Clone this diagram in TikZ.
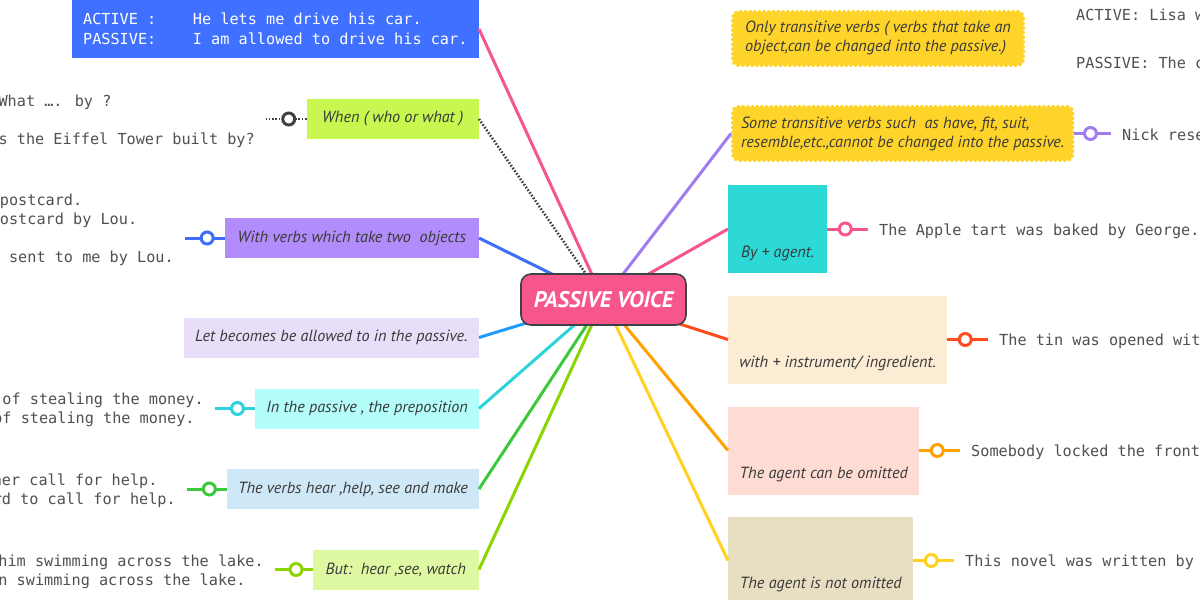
\documentclass[tikz,border=0pt]{standalone}
\usepackage{fontspec}
\newfontfamily\codefont{DejaVu Sans Mono}
\newfontfamily\handfont{PT Sans}
\newcommand{\codetext}{\codefont\fontsize{15.2pt}{19pt}\selectfont}
\newcommand{\handtext}{\handfont\itshape\fontsize{16.2pt}{19pt}\selectfont}
\newcommand{\hubtext}{\handfont\bfseries\itshape\fontsize{22.5pt}{26pt}\selectfont}
\definecolor{ink}{HTML}{3A3A3A}
\definecolor{codegray}{HTML}{505050}
\definecolor{boxblue}{HTML}{4070FF}
\definecolor{boxlime}{HTML}{C8F850}
\definecolor{boxviolet}{HTML}{B18CFA}
\definecolor{boxlilac}{HTML}{E9DEF9}
\definecolor{boxaqua}{HTML}{B3FDFB}
\definecolor{boxsky}{HTML}{CFE8F7}
\definecolor{boxpista}{HTML}{DEF9A2}
\definecolor{boxsun}{HTML}{FFD42A}
\definecolor{boxteal}{HTML}{2DD9D6}
\definecolor{boxcream}{HTML}{FBECD3}
\definecolor{boxpeach}{HTML}{FFDCD3}
\definecolor{boxsand}{HTML}{E8DFC3}
\definecolor{lnrose}{HTML}{F7568B}
\definecolor{lnslate}{HTML}{3D4247}
\definecolor{lnroyal}{HTML}{3F6CF9}
\definecolor{lndodger}{HTML}{1E9BFF}
\definecolor{lnturq}{HTML}{2CD3DB}
\definecolor{lngrass}{HTML}{3CC83C}
\definecolor{lnchart}{HTML}{8CD500}
\definecolor{lnpurple}{HTML}{A07CF0}
\definecolor{lncoral}{HTML}{FF4B1F}
\definecolor{lnamber}{HTML}{FFA200}
\definecolor{lngold}{HTML}{FFD21F}

\begin{document}
\begin{tikzpicture}
		[x=1pt, y=-1pt,
		lbox/.style={rectangle, anchor=east, minimum height=40pt, inner xsep=11pt, font=\handtext, text=ink},
		rbox/.style={rectangle, anchor=west, minimum height=88pt, inner sep=11pt, text height=61pt, text depth=5pt, align=left, font=\handtext, text=ink},
		wavy/.style={rectangle, anchor=west, minimum height=53pt, inner xsep=8pt, inner ysep=6pt, align=left, font=\handtext, text=ink, fill=boxsun, draw=boxsun, line width=4pt, line cap=round, dash pattern=on 0pt off 4.7pt, rounded corners=5pt},
		note/.style={font=\codetext, text=codegray, inner xsep=11pt, inner ysep=0pt, align=left},
		branch/.style={line width=3pt, draw=#1},
		dots/.style={line width=2.6pt, draw=lnslate, dash pattern=on 1.6pt off 1.7pt},
		ring/.style={circle, solid, draw=#1, fill=white, line width=3pt, minimum size=12pt, inner sep=0pt, pos=.44}]
		\useasboundingbox (0, 0) rectangle (1200, 600);
		\fill[white] (0, 0) rectangle (1200, 600);
		\clip (0, 0) rectangle (1200, 600);
		\coordinate (hub) at (603.5, 299.5);
		
		\node[rectangle, anchor=east, fill=boxblue, minimum width=407pt, minimum height=58pt, inner xsep=11pt, align=left, font=\codetext, text=white] (r1) at (479, 29) {ACTIVE :\hphantom{xxxx}He lets me drive his car.\\[1pt]PASSIVE:\hphantom{xxxx}I am allowed to drive his car.};
		\node[lbox, fill=boxlime, minimum width=172pt] (r2) at (479, 119) {When ( who or what )};
		\node[lbox, fill=boxviolet, minimum width=254pt] (r3) at (479, 238) {With verbs which take two\ \ objects};
		\node[lbox, fill=boxlilac, minimum width=295pt] (r4) at (479, 337.5) {Let becomes be allowed to in the passive.};
		\node[lbox, fill=boxaqua, minimum width=223pt] (r5) at (479, 408.5) {In the passive , the preposition};
		\node[lbox, fill=boxsky, minimum width=251pt] (r6) at (479, 489) {The verbs hear ,help, see and make};
		\node[lbox, fill=boxpista, minimum width=166pt] (r7) at (479, 569.5) {But:\ \ hear ,see, watch};
		
		\node[note, anchor=east] (t2) at (266, 121) {What …. by ?\\[19pt]s the Eiffel Tower built by?};
		\node[note, anchor=east] (t3) at (185, 241) {postcard.\\ostcard by Lou.\\[19pt]\hphantom{s}sent to me by Lou.\\\strut};
		\node[note, anchor=east] (t5) at (215, 410) {\hphantom{o}of stealing the money.\\of stealing the money.};
		\node[note, anchor=east] (t6) at (187, 491) {her call for help.\\rd to call for help.};
		\node[note, anchor=east] (t7) at (275, 571.5) {him swimming across the lake.\\n swimming across the lake.};
		
		\node[wavy, minimum width=290pt] (q1) at (731, 38.5) {Only transitive verbs ( verbs that take an\\object,can be changed into the passive.)};
		\node[wavy, minimum width=337pt] (q2) at (731, 133.5) {Some transitive verbs such\ \ as have, fit, suit,\\resemble,etc.,cannot be changed into the passive.};
		\node[rbox, fill=boxteal, minimum width=99pt] (q3) at (728, 229) {By + agent.};
		\node[rbox, fill=boxcream, minimum width=219pt] (q4) at (728, 339.5) {with + instrument/ ingredient.};
		\node[rbox, fill=boxpeach, minimum width=191pt] (q5) at (728, 450.5) {The agent can be omitted};
		\node[rbox, fill=boxsand, minimum width=185pt] (q6) at (728, 560.5) {The agent is not omitted};
		
		\node[note, anchor=west] (u1) at (1065, 38.5) {ACTIVE: Lisa w\\[29pt]PASSIVE: The c};
		\node[note, anchor=west] (u2) at (1111, 134.5) {Nick rese};
		\node[note, anchor=west] (u3) at (868, 231) {The Apple tart was baked by George.};
		\node[note, anchor=west] (u4) at (988, 341) {The tin was opened wit};
		\node[note, anchor=west] (u5) at (960, 452) {Somebody locked the front};
		\node[note, anchor=west] (u6) at (954, 562) {This novel was written by};
		
		\path (hub) edge[branch=lnrose] (r1.east)
		edge[dots] (r2.east)
		edge[branch=lnroyal] (r3.east)
		edge[branch=lndodger] (r4.east)
		edge[branch=lnturq] (r5.east)
		edge[branch=lngrass] (r6.east)
		edge[branch=lnchart] (r7.east)
		edge[branch=lnpurple] (q2.west)
		edge[branch=lnrose] (q3.west)
		edge[branch=lncoral] (q4.west)
		edge[branch=lnamber] (q5.west)
		edge[branch=lngold] (q6.west);
		
		\path (r2.west) edge[dots] node[ring=lnslate] {} (t2.east |- r2.west);
		\path (r3.west) edge[branch=lnroyal] node[ring=lnroyal] {} (t3.east |- r3.west);
		\path (r5.west) edge[branch=lnturq] node[ring=lnturq] {} (t5.east |- r5.west);
		\path (r6.west) edge[branch=lngrass] node[ring=lngrass] {} (t6.east |- r6.west);
		\path (r7.west) edge[branch=lnchart] node[ring=lnchart] {} (t7.east |- r7.west);
		\path (q2.east) edge[branch=lnpurple] node[ring=lnpurple] {} (u2.west |- q2.east);
		\path (q3.east) edge[branch=lnrose] node[ring=lnrose] {} (u3.west |- q3.east);
		\path (q4.east) edge[branch=lncoral] node[ring=lncoral] {} (u4.west |- q4.east);
		\path (q5.east) edge[branch=lnamber] node[ring=lnamber] {} (u5.west |- q5.east);
		\path (q6.east) edge[branch=lngold] node[ring=lngold] {} (u6.west |- q6.east);
		
		\node[rectangle, rounded corners=10pt, fill=lnrose, draw=lnslate, line width=1.6pt, minimum width=165pt, minimum height=51pt, font=\hubtext, text=white] (r0) at (hub) {PASSIVE VOICE};
		
	\end{tikzpicture}
\end{document}
